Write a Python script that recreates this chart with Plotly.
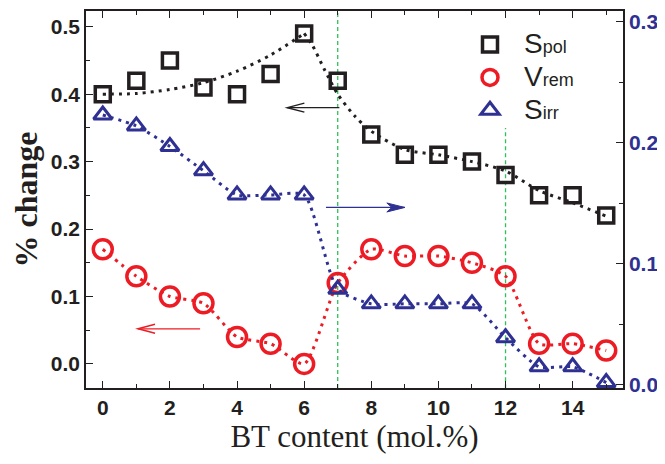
import plotly.graph_objects as go

# ---- data ----
bt = list(range(16))
spol = [0.40, 0.42, 0.45, 0.41, 0.40, 0.43, 0.49, 0.42, 0.34, 0.31, 0.31, 0.30, 0.28, 0.25, 0.25, 0.22]
vrem = [0.17, 0.13, 0.10, 0.09, 0.04, 0.03, 0.00, 0.12, 0.17, 0.16, 0.16, 0.15, 0.13, 0.03, 0.03, 0.02]
sirr = [0.223, 0.214, 0.197, 0.177, 0.157, 0.157, 0.157, 0.079, 0.067, 0.067, 0.067, 0.067, 0.039, 0.015, 0.015, 0.002]

# guide-to-eye curve for Spol (two branches)
spol_fit_x = [0, 1, 2, 3, 4, 5, 6, None, 6, 6.25, 6.6, 7, 7.5, 8, 9, 10, 11, 12, 13, 14, 15]
spol_fit_y = [0.40, 0.401, 0.407, 0.417, 0.434, 0.458, 0.49, None, 0.49, 0.472, 0.437, 0.40, 0.368, 0.345, 0.318, 0.31, 0.30, 0.286, 0.257, 0.239, 0.219]

x_ticks = [0, 2, 4, 6, 8, 10, 12, 14]
y_ticks = [0.0, 0.1, 0.2, 0.3, 0.4, 0.5]
y2_ticks = [0.0, 0.1, 0.2, 0.3]
phase_lines = [7, 12]

BLACK = "#231f20"
RED = "#ed1c24"
BLUE = "#2e3192"
GREEN = "#2fc05a"
DOT = "3px,5px"

fig = go.Figure()

# dotted guide lines
fig.add_trace(go.Scatter(x=spol_fit_x, y=spol_fit_y, mode="lines", showlegend=False,
                         line=dict(color=BLACK, width=3, dash=DOT, shape="spline", smoothing=0.8),
                         connectgaps=False, hoverinfo="skip"))
fig.add_trace(go.Scatter(x=bt, y=vrem, mode="lines", showlegend=False,
                         line=dict(color=RED, width=3, dash=DOT, shape="spline", smoothing=0.6),
                         hoverinfo="skip"))
fig.add_trace(go.Scatter(x=bt, y=sirr, mode="lines", showlegend=False, yaxis="y2",
                         line=dict(color=BLUE, width=3, dash=DOT, shape="spline", smoothing=0.6),
                         hoverinfo="skip"))

# markers
def lname(big, small):
    return f"<span style='font-size:28px'>{big}</span><span style='font-size:18px'>{small}</span>"

fig.add_trace(go.Scatter(x=bt, y=spol, mode="markers", name=lname("S", "pol"),
                         marker=dict(symbol="square-open", size=15, color=BLACK, line=dict(width=3.5, color=BLACK))))
fig.add_trace(go.Scatter(x=bt, y=vrem, mode="markers", name=lname("V", "rem"),
                         marker=dict(symbol="circle-open", size=19, color=RED, line=dict(width=3.5, color=RED))))
fig.add_trace(go.Scatter(x=bt, y=sirr, mode="markers", yaxis="y2", name=lname("S", "irr"),
                         marker=dict(symbol="triangle-up-open", size=16, color=BLUE, line=dict(width=3, color=BLUE))))

shapes = []
# phase boundary lines
shapes.append(dict(type="line", xref="x", yref="paper", x0=phase_lines[0], x1=phase_lines[0], y0=0, y1=1,
                   line=dict(color=GREEN, width=1.3, dash="4px,3px"), layer="below"))
shapes.append(dict(type="line", xref="x", yref="y", x0=phase_lines[1], x1=phase_lines[1], y0=-0.036, y1=0.35,
                   line=dict(color=GREEN, width=1.3, dash="4px,3px"), layer="below"))

# arrows (shaft + head)
def arrow(x_tail, x_tip, y, color, yref, filled, direction):
    s = [dict(type="line", xref="x", yref=yref, x0=x_tail, x1=x_tip, y0=y, y1=y,
              line=dict(color=color, width=1.3))]
    d = -1 if direction == "right" else 1
    if filled:
        path = f"M {d*18},-4.5 L 0,0 L {d*18},4.5 L {d*13},0 Z"
        s.append(dict(type="path", xref="x", yref=yref, xsizemode="pixel", ysizemode="pixel",
                      xanchor=x_tip, yanchor=y, path=path, fillcolor=color,
                      line=dict(color=color, width=1)))
    else:
        path = f"M {d*17},-4.5 L 0,0 L {d*17},4.5"
        s.append(dict(type="path", xref="x", yref=yref, xsizemode="pixel", ysizemode="pixel",
                      xanchor=x_tip, yanchor=y, path=path,
                      line=dict(color=color, width=1.5)))
    return s

shapes += arrow(7.05, 5.5, 0.38, BLACK, "y", False, "left")
shapes += arrow(2.9, 1.05, 0.052, RED, "y", False, "left")
shapes += arrow(6.65, 9.0, 0.232, BLUE, "y", True, "right")

tickfont = dict(family="Liberation Sans, Arial", size=21, color=BLACK, weight="bold")

# the page body adds an 8px offset; size the figure to fit the window
fig.update_layout(
    width=657, height=456,
    margin=dict(l=78, r=42, t=3, b=76, autoexpand=False),
    paper_bgcolor="white", plot_bgcolor="white",
    shapes=shapes,
    showlegend=True,
    legend=dict(x=0.689, y=0.968, xanchor="left", yanchor="top",
                font=dict(family="Liberation Sans, Arial", size=23, color=BLACK),
                itemwidth=58, bgcolor="rgba(0,0,0,0)", tracegroupgap=0),
    xaxis=dict(range=[-0.5, 15.5], tickvals=x_ticks, ticks="inside", ticklen=7, tickwidth=1.3,
               tickcolor=BLACK, showline=True, linecolor=BLACK, linewidth=1.5, mirror="ticks",
               showgrid=False, zeroline=False, tickfont=tickfont, automargin=False,
               minor=dict(dtick=1, tick0=0, ticks="inside", ticklen=4, tickwidth=1.3, tickcolor=BLACK),
               title=dict(text="BT content (mol.%)", standoff=6,
                          font=dict(family="Liberation Serif, Times New Roman", size=31, color=BLACK))),
    yaxis=dict(range=[-0.0357, 0.5233], tickvals=y_ticks, tickformat=".1f", ticks="inside", ticklen=7,
               tickwidth=1.3, tickcolor=BLACK, showline=True, linecolor=BLACK, linewidth=1.5,
               showgrid=False, zeroline=False, tickfont=tickfont, automargin=False,
               minor=dict(dtick=0.05, tick0=0, ticks="inside", ticklen=4, tickwidth=1.3, tickcolor=BLACK),
               title=dict(text="% change", standoff=6,
                          font=dict(family="Liberation Serif, Times New Roman", size=32, color=BLACK,
                                    weight="bold"))),
    yaxis2=dict(overlaying="y", side="right", range=[-0.0025, 0.3089], tickvals=y2_ticks, tickformat=".1f",
                ticks="inside", ticklen=7, tickwidth=1.3, tickcolor=BLACK, showline=True, linecolor=BLACK,
                linewidth=1.5, showgrid=False, zeroline=False, automargin=False,
                tickfont=dict(family="Liberation Sans, Arial", size=21, color=BLUE, weight="bold"),
                minor=dict(dtick=0.05, tick0=0, ticks="inside", ticklen=4, tickwidth=1.3, tickcolor=BLACK)),
)

fig.write_html("out.html")
